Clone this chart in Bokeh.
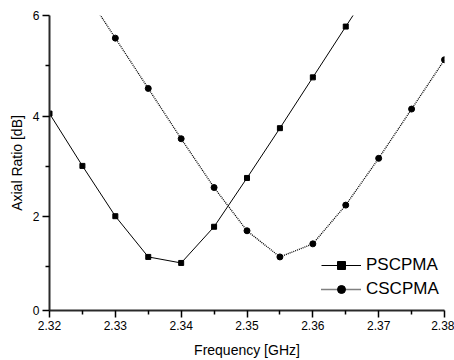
from bokeh.plotting import figure
from bokeh.models import Range1d, FixedTicker, Legend, LegendItem
from bokeh.embed import file_html
from bokeh.resources import INLINE

freq_ps = [2.32, 2.325, 2.33, 2.335, 2.34, 2.345, 2.35, 2.355, 2.36, 2.365, 2.37]
ar_ps = [4.05, 3.01, 2.01, 1.20, 1.08, 1.80, 2.77, 3.76, 4.77, 5.78, 6.78]

freq_cs = [2.325, 2.33, 2.335, 2.34, 2.345, 2.35, 2.355, 2.36, 2.365, 2.37, 2.375, 2.38]
ar_cs = [6.55, 5.55, 4.55, 3.55, 2.58, 1.72, 1.20, 1.46, 2.23, 3.16, 4.14, 5.12]

x_ticks = [2.32, 2.33, 2.34, 2.35, 2.36, 2.37, 2.38]
x_minor = [2.325, 2.335, 2.345, 2.355, 2.365, 2.375]
x_labels = ["2.32", "2.33", "2.34", "2.35", "2.36", "2.37", "2.38"]
y_bottom = 0.135
y_ticks = [y_bottom, 2, 4, 6]
y_labels = ["0", "2", "4", "6"]
y_minor = [1, 3, 5]

FONT = "Liberation Sans"

p = figure(width=454, height=360, output_backend="svg", toolbar_location=None,
           x_range=Range1d(2.32, 2.38), y_range=Range1d(y_bottom, 6))
p.min_border_left = 49
p.min_border_right = 10
p.min_border_top = 15
p.min_border_bottom = 48
p.outline_line_color = None
p.xgrid.visible = False
p.ygrid.visible = False

p.xaxis.ticker = FixedTicker(ticks=x_ticks, minor_ticks=x_minor)
p.xaxis.major_label_overrides = {t: l for t, l in zip(x_ticks, x_labels)}
p.yaxis.ticker = FixedTicker(ticks=y_ticks, minor_ticks=y_minor)
p.yaxis.major_label_overrides = {t: l for t, l in zip(y_ticks, y_labels)}

p.axis.axis_line_width = 2
p.axis.axis_line_color = "#2a2a2a"
p.axis.major_tick_line_color = "#000000"
p.axis.minor_tick_line_color = "#000000"
p.axis.major_tick_line_width = 1.5
p.axis.minor_tick_line_width = 1.5
p.axis.major_tick_out = 7
p.axis.major_tick_in = 0
p.axis.minor_tick_out = 4
p.axis.minor_tick_in = 0
p.axis.major_label_text_font = FONT
p.axis.major_label_text_font_size = "12px"
p.axis.major_label_text_color = "black"
p.axis.axis_label_text_font = FONT
p.axis.axis_label_text_font_size = "14px"
p.axis.axis_label_text_font_style = "normal"
p.axis.axis_label_text_color = "black"

p.xaxis.axis_label = "Frequency [GHz]"
p.yaxis.axis_label = "Axial Ratio [dB]"
p.xaxis.major_label_standoff = 3
p.xaxis.axis_label_standoff = 9
p.yaxis.major_label_standoff = 3
p.yaxis.axis_label_standoff = 5

l1 = p.line(freq_ps, ar_ps, line_color="black", line_width=1)
s1 = p.scatter(freq_ps, ar_ps, marker="square", size=5, fill_color="black", line_color="black")
l2 = p.line(freq_cs, ar_cs, line_color="black", line_width=1.3, line_dash="1 1")
s2 = p.scatter(freq_cs, ar_cs, marker="circle", size=6, fill_color="black", line_color="black")

legend = Legend(items=[LegendItem(label="PSCPMA", renderers=[l1, s1]),
                       LegendItem(label="CSCPMA", renderers=[l2, s2])],
                location=(272, 11), padding=0, margin=0, spacing=4,
                glyph_width=40, glyph_height=20, label_height=20,
                label_standoff=5, label_text_font=FONT, label_text_font_size="17px",
                label_text_color="black", background_fill_alpha=0, border_line_alpha=0)
p.add_layout(legend)

open("out.html", "w").write(file_html(p, INLINE))
